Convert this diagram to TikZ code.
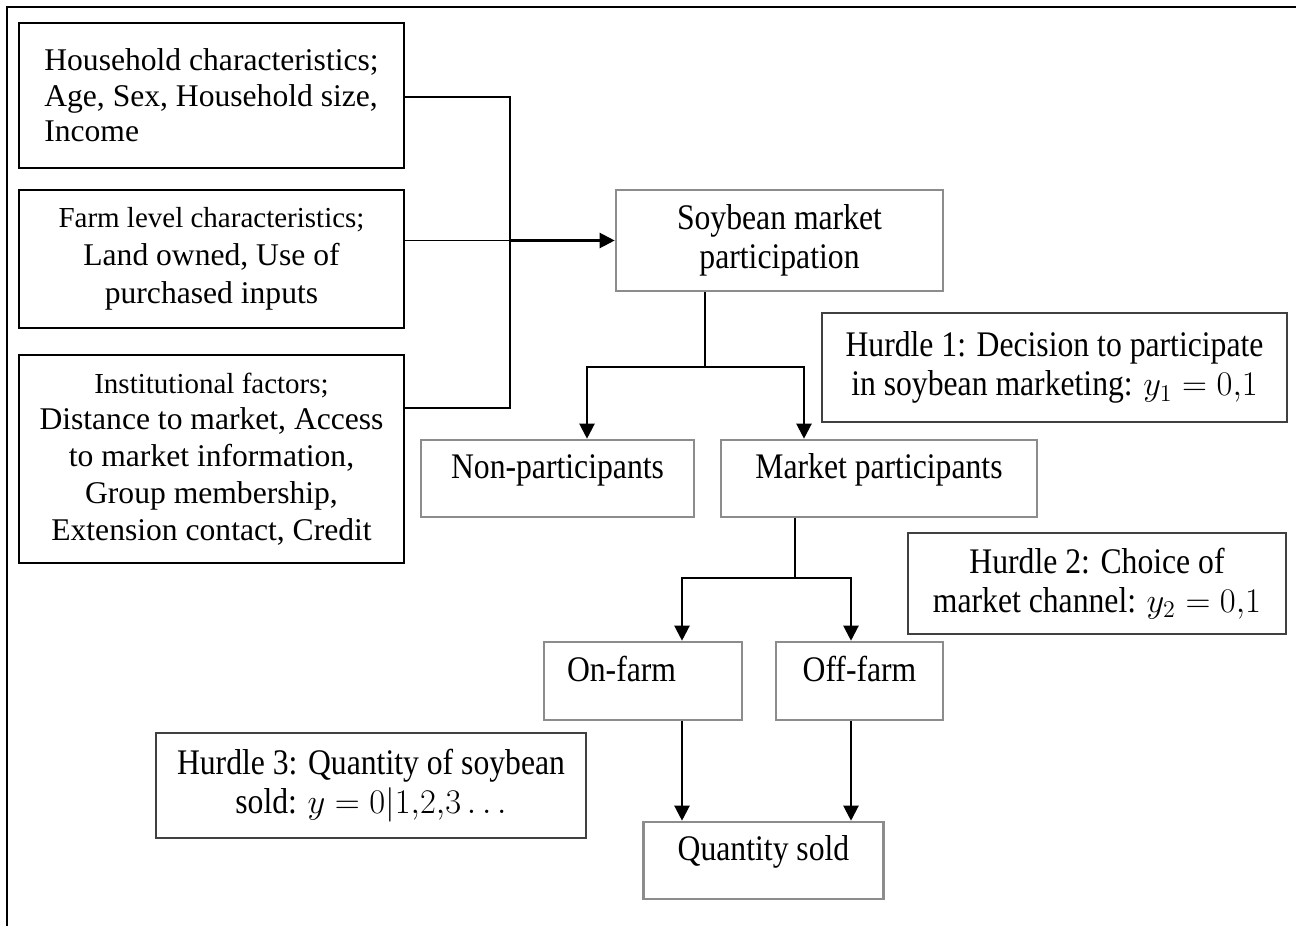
\documentclass[tikz,border=0pt]{standalone}
\usepackage{fontspec}
\setmainfont{Liberation Serif}
\newfontfamily\condfont[FakeStretch=0.88]{Liberation Serif}
\usetikzlibrary{arrows.meta}
\definecolor{boxgray}{HTML}{8C8C8C}
\definecolor{hurdlegray}{HTML}{404040}
\begin{document}
\begin{tikzpicture}[x=0.5pt,y=-0.5pt,
  leftbox/.style={draw=black, line width=1.3pt, rectangle, inner sep=0pt, align=center,
    font=\fontsize{15.8}{18.4}\selectfont},
  graybox/.style={draw=boxgray, line width=1.3pt, rectangle, inner sep=0pt, align=center,
    font=\condfont\fontsize{18}{19.5}\selectfont},
  upper/.style={text height=8pt, text depth=8pt},
  hurdle/.style={draw=hurdlegray, line width=0.7pt, rectangle, inner sep=0pt, align=center,
    font=\condfont\fontsize{18}{19.8}\selectfont},
  conn/.style={line width=1.1pt, black},
  thinconn/.style={line width=0.7pt, black},
  arr/.style={-{Triangle[length=7.5pt,width=7.5pt]}}
]
\useasboundingbox (0,0) rectangle (1296,926);
% outer frame (top and left only)
\draw[line width=1pt] (7,926) -- (7,7) -- (1296,7);

% left input boxes
\node[leftbox, minimum width=192.5pt, minimum height=72.5pt, align=left,
  font=\fontsize{15.8}{17.8}\selectfont] (A) at (211.5,95.5)
  {Household characteristics;\\Age, Sex, Household size,\\Income};
\node[leftbox, minimum width=192.5pt, minimum height=69pt, font=\fontsize{15.8}{19}\selectfont] (B) at (211.5,259)
  {{\fontsize{14.5}{19}\selectfont Farm level characteristics;}\\Land owned, Use of\\purchased inputs};
\node[leftbox, minimum width=192.5pt, minimum height=104pt] (C) at (211.5,459)
  {{\fontsize{14.5}{18.4}\selectfont Institutional factors;}\\Distance to market, Access\\to market information,\\Group membership,\\Extension contact, Credit};

% main flow boxes
\node[graybox, minimum width=163.5pt, minimum height=50.5pt] (S) at (779.5,240.5)
  {Soybean market\\participation};
\node[graybox, upper, minimum width=136.5pt, minimum height=38.5pt] (NP) at (557.5,478.5)
  {Non-participants};
\node[graybox, upper, minimum width=158pt, minimum height=38.5pt] (MP) at (879,478.5)
  {Market participants};
\node[graybox, upper, minimum height=39pt, text width=76pt, inner xsep=11.5pt, align=left] (ON) at (643,681)
  {On-farm};
\node[graybox, upper, minimum width=83.5pt, minimum height=39pt] (OFF) at (859.5,681)
  {Off-farm};
\node[graybox, upper, minimum width=120pt, minimum height=38.5pt] (Q) at (763.5,860.5)
  {Quantity sold};

% hurdle boxes
\node[hurdle, minimum width=232.5pt, minimum height=54.5pt] (H1) at (1054.5,367.5)
  {Hurdle 1: Decision to participate\\in soybean marketing: $y_1 = 0{,}1$};
\node[hurdle, minimum width=189pt, minimum height=50.5pt] (H2) at (1097,583.5)
  {Hurdle 2: Choice of\\market channel: $y_2 = 0{,}1$};
\node[hurdle, minimum width=215pt, minimum height=52.5pt] (H3) at (371,785.5)
  {Hurdle 3: Quantity of soybean\\sold: $y = 0|1{,}2{,}3\ldots$};

% junction coordinates
\coordinate (ct) at (510,97);
\coordinate (cb) at (510,408);
\coordinate (j1) at (705,367);
\coordinate (a1) at (587,367);
\coordinate (a2) at (804,367);
\coordinate (j2) at (795,578);
\coordinate (b1) at (682,578);
\coordinate (b2) at (851,578);

% bracket into soybean box
\draw[conn] (A.east |- ct) -- (ct) -- (cb) -- (C.east |- cb);
\draw[thinconn] (B.east |- S.west) -- (ct |- S.west);
\draw[conn, arr] (ct |- S.west) -- (S.west);

% branch 1
\draw[conn] (S.south -| j1) -- (j1);
\draw[conn, arr] (j1) -- (a1) -- (a1 |- NP.north);
\draw[conn, arr] (j1) -- (a2) -- (a2 |- MP.north);

% branch 2
\draw[conn] (MP.south -| j2) -- (j2);
\draw[conn, arr] (j2) -- (b1) -- (b1 |- ON.north);
\draw[conn, arr] (j2) -- (b2) -- (b2 |- OFF.north);

% to quantity sold
\draw[conn, arr] (ON.south -| b1) -- (Q.north -| b1);
\draw[conn, arr] (OFF.south -| b2) -- (Q.north -| b2);
\end{tikzpicture}
\end{document}
